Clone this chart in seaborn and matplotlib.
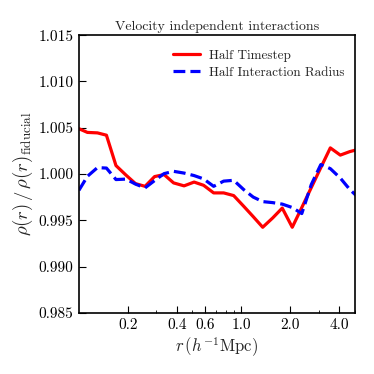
import matplotlib
matplotlib.use("Agg")
import matplotlib.pyplot as plt
import seaborn as sns
import numpy as np
from matplotlib.ticker import FixedLocator, FixedFormatter, LogLocator, NullFormatter, FormatStrFormatter

# ---- data ----
r = [0.1, 0.1128, 0.1300, 0.1477, 0.1691, 0.1949, 0.2230, 0.2553, 0.2922, 0.3342,
     0.3825, 0.4439, 0.5117, 0.5856, 0.6751, 0.7780, 0.8967, 1.0332, 1.1823, 1.3530,
     1.5596, 1.7846, 2.0572, 2.3546, 2.6935, 3.0829, 3.5277, 4.0648, 4.6530, 5.3264]
half_timestep = [1.0049, 1.0045, 1.00445, 1.0042, 1.00092, 0.99989, 0.99897, 0.99868, 0.99973, 0.99995,
                 0.99905, 0.99873, 0.99914, 0.99879, 0.99797, 0.99797, 0.99768, 0.99653, 0.99541, 0.99426,
                 0.99527, 0.99633, 0.99426, 0.99639, 0.99854, 1.0007, 1.00283, 1.00205, 1.00243, 1.0027]
half_radius = [0.99825, 0.99976, 1.0007, 1.00065, 0.99941, 0.99946, 0.99892, 0.99851, 0.9993, 1.00005,
               1.0003, 1.00011, 0.99984, 0.99948, 0.99868, 0.99924, 0.99933, 0.99833, 0.99752, 0.99703,
               0.99692, 0.99676, 0.99639, 0.99574, 0.99887, 1.00103, 1.00059, 0.99957, 0.99833, 0.99736]
xtick_vals = [0.2, 0.4, 0.6, 1.0, 2.0, 4.0]
xtick_labels = ["0.2", "0.4", "0.6", "1.0", "2.0", "4.0"]
yticks = [0.985, 0.990, 0.995, 1.000, 1.005, 1.010, 1.015]

sns.set_style("ticks")
plt.rcParams["font.family"] = ["cmr10", "DejaVu Serif"]
plt.rcParams["mathtext.fontset"] = "cm"
plt.rcParams["axes.formatter.use_mathtext"] = True

fig = plt.figure(figsize=(3.74, 3.74), dpi=100)
ax = fig.add_axes([0.211, 0.163, 0.738, 0.743])

sns.lineplot(x=r, y=half_timestep, ax=ax, color="#ff0000", lw=2.3, label="Half Timestep")
sns.lineplot(x=r, y=half_radius, ax=ax, color="#0000ff", lw=2.3, linestyle="--",
             label="Half Interaction Radius")

ax.set_xscale("log")
ax.set_xlim(0.1, 5.0)
ax.set_ylim(0.985, 1.015)
ax.xaxis.set_major_locator(FixedLocator(xtick_vals))
ax.xaxis.set_major_formatter(FixedFormatter(xtick_labels))
ax.xaxis.set_minor_locator(LogLocator(base=10, subs=np.arange(2, 10)))
ax.xaxis.set_minor_formatter(NullFormatter())
ax.set_yticks(yticks)
ax.yaxis.set_major_formatter(FormatStrFormatter("%.3f"))

ax.tick_params(axis="both", which="major", direction="in", length=5, width=0.8,
               labelsize=11, top=False, right=False, pad=4, colors="black")
ax.tick_params(axis="x", which="minor", direction="in", length=2.2, width=0.7, top=False)
for s in ax.spines.values():
    s.set_linewidth(1.2)
    s.set_color("black")

ax.set_xlabel(r"$r\,(h^{-1}{\rm Mpc})$", fontsize=12, labelpad=2)
ax.set_ylabel(r"$\rho(r)\,/\,\rho(r)_{\rm fiducial}$", fontsize=13.5, labelpad=2)
ax.set_title("Velocity independent interactions", fontsize=10, pad=4)

ax.legend(loc="upper right", frameon=False, fontsize=9.5, handlelength=2.0,
          handletextpad=0.7, borderaxespad=0.4, labelspacing=0.35,
          bbox_to_anchor=(1.0, 0.985))

fig.savefig("out.png", dpi=100)
